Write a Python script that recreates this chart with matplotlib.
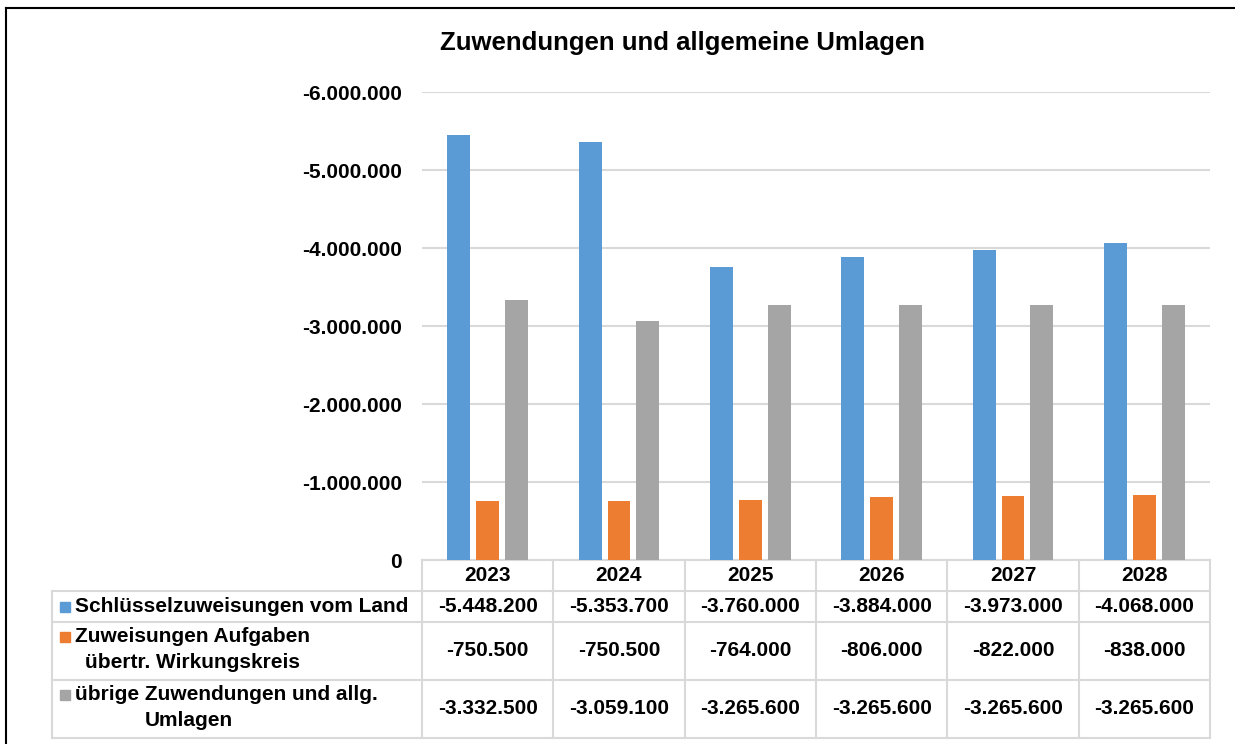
import matplotlib.pyplot as plt
from matplotlib.patches import Rectangle
from matplotlib.lines import Line2D
from matplotlib.ticker import FuncFormatter
import numpy as np

plt.rcParams['font.family'] = ['Liberation Sans', 'DejaVu Sans']
plt.rcParams['font.weight'] = 'bold'

years = ['2023', '2024', '2025', '2026', '2027', '2028']
schluessel = [-5448200, -5353700, -3760000, -3884000, -3973000, -4068000]
zuweisungen = [-750500, -750500, -764000, -806000, -822000, -838000]
uebrige = [-3332500, -3059100, -3265600, -3265600, -3265600, -3265600]
series_names = [['Schlüsselzuweisungen vom Land'],
                ['Zuweisungen Aufgaben', 'übertr. Wirkungskreis'],
                ['übrige Zuwendungen und allg.', 'Umlagen']]
colors = ['#5B9BD5', '#ED7D31', '#A5A5A5']


def de_fmt(v, pos=None):
    return f'{v:,.0f}'.replace(',', '.')


W, H = 1235, 744
fig = plt.figure(figsize=(W / 100, H / 100), dpi=100)
ax = fig.add_axes([422 / W, 1 - 560 / H, 788 / W, 468 / H])

x = np.arange(len(years))
step = 0.22
width = 0.175
for i, (vals, c) in enumerate(zip([schluessel, zuweisungen, uebrige], colors)):
    ax.bar(x + (i - 1) * step, vals, width, color=c, zorder=3)

ax.set_xlim(-0.5, len(years) - 0.5)
ax.set_ylim(0, -6000000)
ax.set_yticks(np.arange(0, -6000001, -1000000))
ax.yaxis.set_major_formatter(FuncFormatter(de_fmt))
ax.tick_params(axis='y', length=0, pad=14.5, labelsize=15)
ax.set_xticks([])
ax.grid(axis='y', color='#d9d9d9', linewidth=1.5, zorder=0)
for s in ax.spines.values():
    s.set_visible(False)

fig.text(683 / W, 1 - 43 / H, 'Zuwendungen und allgemeine Umlagen',
         ha='center', va='center', fontsize=18.5, fontweight='bold')

# data table below the axes
def ay(ypx):
    return (560 - ypx) / 468

def axx(xpx):
    return (xpx - 422) / 788

row_edges = [560, 591, 622, 680, 738]
grid_kw = dict(color='#d9d9d9', linewidth=1.5, clip_on=False)
tr = ax.get_xaxis_transform()
# horizontal lines
ax.add_line(Line2D([0, 1], [ay(560), ay(560)], transform=ax.transAxes, **grid_kw))
for ypx in row_edges[1:]:
    ax.add_line(Line2D([axx(52), 1], [ay(ypx), ay(ypx)], transform=ax.transAxes, **grid_kw))
# vertical lines
for b in np.arange(-0.5, len(years)):
    ax.add_line(Line2D([b, b], [ay(560), ay(738)], transform=tr, **grid_kw))
ax.add_line(Line2D([axx(52), axx(52)], [ay(591), ay(738)], transform=ax.transAxes, **grid_kw))

for j, yr in enumerate(years):
    ax.text(j, ay(575.5), yr, transform=tr, ha='center', va='center', fontsize=15)

all_vals = [schluessel, zuweisungen, uebrige]
for r, vals in enumerate(all_vals):
    yc = ay((row_edges[r + 1] + row_edges[r + 2]) / 2)
    for j, v in enumerate(vals):
        ax.text(j, yc, de_fmt(v), transform=tr, ha='center', va='center', fontsize=15)

# legend keys and labels
label_pos = [
    [(75, 606.5)],
    [(75, 637), (85, 662)],
    [(75, 695), (145, 720)],
]
key_y = [606.5, 637, 695]
for r, (names, c) in enumerate(zip(series_names, colors)):
    ax.add_patch(Rectangle((axx(60), ay(key_y[r] + 5)), 10 / 788, 10 / 468,
                           transform=ax.transAxes, color=c, clip_on=False))
    for name, (px, py) in zip(names, label_pos[r]):
        ax.text(axx(px), ay(py), name, transform=ax.transAxes,
                ha='left', va='center', fontsize=15)

# outer frame (left and top)
fig.add_artist(Line2D([6 / W, 6 / W], [0, 1 - 8 / H], transform=fig.transFigure,
                      color='black', linewidth=1.5))
fig.add_artist(Line2D([6 / W, 1], [1 - 8 / H, 1 - 8 / H], transform=fig.transFigure,
                      color='black', linewidth=1.5))

fig.savefig('out.png', dpi=100)
